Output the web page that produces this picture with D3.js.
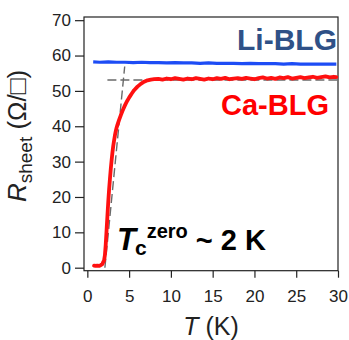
<!DOCTYPE html>
<html>
<head>
<meta charset="utf-8">
<script src="https://cdn.jsdelivr.net/npm/d3@7"></script>
<style>
  html, body { margin: 0; padding: 0; background: #fff; }
  svg { display: block; }
  text { font-family: "Liberation Sans", Arial, Helvetica, sans-serif; }
</style>
</head>
<body>
<svg id="chart" width="349" height="340"></svg>
<script>
// Sheet resistance vs temperature for Ca- and Li-intercalated bilayer graphene
const caT = [0.8, 1.0, 1.2, 1.4, 1.6, 1.8, 1.9, 2.0, 2.1, 2.2, 2.3, 2.4, 2.5, 2.6, 2.7, 2.8, 2.9, 3.0,
  3.1, 3.2, 3.3, 3.4, 3.5, 3.6, 3.8, 4.0, 4.2, 4.4, 4.6, 4.8, 5.0, 5.3, 5.6, 6.0, 6.4, 6.8, 7.2, 7.6,
  8.0, 8.5, 9.0, 9.5, 10, 10.5, 11, 11.5, 12, 12.5, 13, 13.5, 14, 14.5, 15, 15.5, 16, 16.5, 17, 17.5,
  18, 18.5, 19, 19.5, 20, 20.5, 21, 21.5, 22, 22.5, 23, 23.5, 24, 24.5, 25, 25.5, 26, 26.5, 27, 27.5,
  28, 28.5, 29, 29.5, 29.8];
const caR = [0.6, 0.5, 0.6, 0.5, 0.7, 1.0, 1.6, 2.0, 3.5, 6.5, 10.5, 14.5, 18.5, 22.0, 25.0, 27.8, 30.3, 32.5,
  34.4, 36.0, 37.4, 38.6, 39.6, 40.4, 41.8, 43.1, 44.3, 45.4, 46.4, 47.3, 48.1, 49.2, 50.2, 51.2, 52.0, 52.6, 53.0, 53.2,
  53.3, 53.4, 53.2, 53.5, 53.3, 53.6, 53.4, 53.2, 53.5, 53.3, 53.6, 53.4, 53.2, 53.5, 53.3, 53.6, 53.4, 53.7, 53.3, 53.5,
  53.6, 53.4, 53.7, 53.5, 53.3, 53.6, 53.8, 53.5, 53.7, 53.4, 53.8, 53.6, 53.9, 53.5, 53.7, 53.9, 53.6, 53.8, 54.0, 53.7,
  53.9, 54.1, 53.8, 54.0, 53.9];

const liT = [0.7, 1.5, 2.5, 3.5, 4.5, 5.5, 6.5, 7.5, 8.5, 9.5, 10.5, 11.5, 12.5, 13.5, 14.5, 15.5, 16.5,
  17.5, 18.5, 19.5, 20.5, 21.5, 22.5, 23.5, 24.5, 25.5, 26.5, 27.5, 28.5, 29.8];
const liR = [58.2, 58.1, 58.2, 58.1, 58.1, 58.0, 58.1, 58.0, 58.0, 57.9, 58.0, 57.9, 57.9, 57.8, 57.9, 57.8, 57.8,
  57.8, 57.7, 57.8, 57.7, 57.7, 57.7, 57.6, 57.7, 57.6, 57.6, 57.6, 57.6, 57.6];

const tangentSteep = [[2.1, 0], [4.47, 56.9]];
const tangentFlat = [[2.4, 53.1], [30, 53.1]];

const xTicks = [0, 5, 10, 15, 20, 25, 30];
const yTicks = [0, 10, 20, 30, 40, 50, 60, 70];

const svg = d3.select("#chart");
const plotL = 84, plotR = 338, plotT = 17, plotB = 270.7;

const x = d3.scaleLinear().domain([-0.4, 30]).range([plotL, plotR]);
const y = d3.scaleLinear().domain([-0.85, 70.9]).range([plotB, plotT]);

// Frame
svg.append("rect")
  .attr("x", plotL).attr("y", plotT)
  .attr("width", plotR - plotL).attr("height", plotB - plotT)
  .attr("fill", "none").attr("stroke", "#222").attr("stroke-width", 1.2);

// Axes
const yAxis = d3.axisLeft(y).tickValues(yTicks).tickSize(9).tickSizeOuter(0).tickPadding(4);
const xAxis = d3.axisBottom(x).tickValues(xTicks).tickSize(7).tickSizeOuter(0).tickPadding(12);

const gy = svg.append("g").attr("transform", `translate(${plotL},0)`).call(yAxis);
const gx = svg.append("g").attr("transform", `translate(0,${plotB})`).call(xAxis);
[gx, gy].forEach(g => {
  g.select(".domain").remove();
  g.selectAll(".tick line").attr("stroke", "#222").attr("stroke-width", 1.2);
  g.selectAll(".tick text").attr("fill", "#222")
    .style("font-size", "17px")
    .style("font-family", "'Liberation Sans', Arial, sans-serif");
});

// Tangent lines
const line = d3.line().x(d => x(d[0])).y(d => y(d[1]));
[tangentSteep, tangentFlat].forEach(seg => {
  svg.append("path").attr("d", line(seg))
    .attr("fill", "none").attr("stroke", "#6a6a6a")
    .attr("stroke-width", 1.4).attr("stroke-dasharray", "9,4");
});

// Data curves
const curve = (ts, rs) => d3.line().x((d, i) => x(ts[i])).y((d, i) => y(rs[i]))(ts);
svg.append("path").attr("d", curve(liT, liR))
  .attr("fill", "none").attr("stroke", "#1d4cf5").attr("stroke-width", 3.2)
  .attr("stroke-linejoin", "round");
svg.append("path").attr("d", curve(caT, caR))
  .attr("fill", "none").attr("stroke", "#ff1010").attr("stroke-width", 3.8)
  .attr("stroke-linejoin", "round").attr("stroke-linecap", "round");

// Series labels
svg.append("text").attr("x", 337).attr("y", 50).attr("text-anchor", "end")
  .attr("fill", "#2f5187").style("font-size", "30px").style("font-weight", "bold")
  .text("Li-BLG");
svg.append("text").attr("x", 329).attr("y", 115).attr("text-anchor", "end")
  .attr("fill", "#ff0000").style("font-size", "29px").style("font-weight", "bold")
  .text("Ca-BLG");

// Tc annotation
const tc = svg.append("text").attr("x", 117).attr("y", 250)
  .attr("fill", "#000").style("font-weight", "bold");
tc.append("tspan").style("font-size", "31px").style("font-style", "italic").text("T");
tc.append("tspan").attr("dx", -1).attr("dy", 5).style("font-size", "21px").text("c");
tc.append("tspan").attr("dy", -17).style("font-size", "20px").text("zero");
tc.append("tspan").attr("dy", 12).style("font-size", "29px").text(" ~ 2 K");

// Axis titles
const xt = svg.append("text").attr("x", (plotL + plotR) / 2).attr("y", 335)
  .attr("text-anchor", "middle").attr("fill", "#222").style("font-size", "25px");
xt.append("tspan").style("font-style", "italic").text("T");
xt.append("tspan").text(" (K)");

const yt = svg.append("text").attr("transform", "translate(26,136) rotate(-90)")
  .attr("text-anchor", "middle").attr("fill", "#222").style("font-size", "26px");
yt.append("tspan").style("font-style", "italic").text("R");
yt.append("tspan").attr("dy", 6).style("font-size", "19px").text("sheet");
yt.append("tspan").attr("dy", -6).text(" (Ω/□)");
</script>
</body>
</html>
